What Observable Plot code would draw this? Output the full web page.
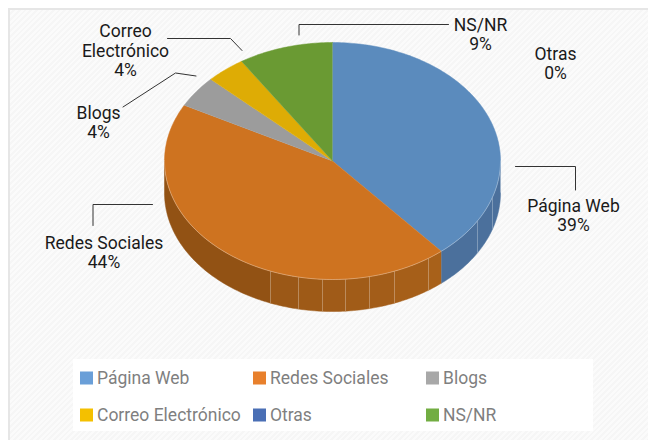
<!DOCTYPE html>
<html>
<head>
<meta charset="utf-8">
<script src="https://cdn.jsdelivr.net/npm/d3@7"></script>
<script src="https://cdn.jsdelivr.net/npm/@observablehq/plot@0.6"></script>
<style>
html,body{margin:0;padding:0;background:#fff;overflow:hidden}
#panel{position:absolute;left:8px;top:8px;width:640px;height:432px;box-sizing:border-box;border-left:2px solid #e6e6e6;border-top:2px solid #e6e6e6;
background:repeating-linear-gradient(135deg,#fbfbfb 0,#fbfbfb 2px,#f6f6f6 2px,#f6f6f6 4px)}
#chart{position:absolute;left:0;top:0}
</style>
</head>
<body>
<div id="panel"></div>
<div id="chart"></div>
<script>
const categories = ["Página Web","Redes Sociales","Blogs","Correo Electrónico","Otras","NS/NR"];
const values = [38.8,44.0,4.3,3.8,0,9.1];
const topColors = ["#5b8bbd","#ce7320","#9c9c9c","#deac05","#4a6aa8","#6a9a33"];
const legendColors = ["#6a9fd8","#e8802c","#a8a8a8","#f4c000","#4a6fb5","#72ad42"];
const labelLines = ["Página Web","Redes Sociales","Blogs","Correo\nElectrónico","Otras","NS/NR"];

// layout of the tilted pie
const cx = 332, cy = 160.5, rx = 168, ry = 118.5, depth = 32;
const pt = (deg, dy = 0) => ({x: cx + rx * Math.sin(deg * Math.PI / 180), y: cy + dy - ry * Math.cos(deg * Math.PI / 180)});
const arc = (a0, a1, dy = 0) => { const n = Math.max(1, Math.ceil(Math.abs(a1 - a0))); return d3.range(n + 1).map(i => pt(a0 + (a1 - a0) * i / n, dy)); };

const total = d3.sum(values);
let acc = 0;
const slices = values.map((v, i) => { const a0 = acc / total * 360; acc += v; return {i, a0, a1: acc / total * 360}; });

// front wall: seams as seen on the reference, left-to-right by pixel column
const seamColumns = [270,298,322,345,369,394,428,477,492];
const seamAngle = c => 180 - Math.asin((c - cx) / rx) * 180 / Math.PI;
const seamAngles = seamColumns.map(seamAngle);
const edges = [90, ...seamAngles, slices[0].a1, 270].sort(d3.ascending);
const orangeWall = d3.interpolateRgb("#a9611a", "#8a4d12");
const wallMarks = d3.pairs(edges).map(([a0, a1]) => {
  const mid = (a0 + a1) / 2;
  const fill = mid < slices[0].a1 ? "#4b709c" : orangeWall((mid - slices[0].a1) / (270 - slices[0].a1));
  const pts = [...arc(a0, a1), ...arc(a1, a0, depth)];
  return Plot.line(pts, {x: "x", y: "y", fill, stroke: fill, strokeWidth: 0.5});
});
const seamMarks = seamAngles.map(a => Plot.line([pt(a), pt(a, depth)], {x: "x", y: "y", stroke: "#fff", strokeOpacity: 0.2, strokeWidth: 1}));

const topMarks = slices.filter(s => s.a1 > s.a0).map(s =>
  Plot.line([{x: cx, y: cy}, ...arc(s.a0, s.a1)], {x: "x", y: "y", fill: topColors[s.i], stroke: topColors[s.i], strokeWidth: 0.5}));
const rimMark = Plot.line(arc(90, 270), {x: "x", y: "y", stroke: "#fff", strokeOpacity: 0.3, strokeWidth: 1});

// labels and leader lines
const labelLayout = [
  {x: 573, y: 215},
  {x: 103.5, y: 251.5},
  {x: 98, y: 121.5},
  {x: 125, y: 50},
  {x: 555, y: 62.5},
  {x: 480, y: 33.5}
];
const labelData = categories.map((c, i) => ({text: `${labelLines[i]}\n${Math.round(values[i])}%`, ...labelLayout[i]}));
const leaders = [
  [{x:515,y:166},{x:575,y:166},{x:575,y:189.5}],
  [{x:92.5,y:225},{x:92.5,y:204},{x:152,y:204}],
  [{x:122.5,y:106.5},{x:175,y:72.5},{x:195.5,y:75.5}],
  [{x:167,y:38},{x:230,y:38},{x:241.5,y:50}],
  [{x:298.5,y:34.5},{x:298.5,y:24},{x:448,y:24}]
];

// legend
const legendBox = [{x1:73,x2:593,y1:359,y2:431}];
const legendCols = [80,253,426], legendRows = [378,415];
const legendItems = categories.map((c, i) => ({c, i, x: legendCols[i % 3], y: legendRows[Math.floor(i / 3)]}));

const font = "Roboto, 'Noto Sans', sans-serif";
const plot = Plot.plot({
  width: 648, height: 440, margin: 0,
  x: {domain: [0, 648], range: [0, 648], axis: null},
  y: {domain: [0, 440], range: [0, 440], axis: null},
  style: {background: "transparent"},
  marks: [
    Plot.rect(legendBox, {x1: "x1", x2: "x2", y1: "y1", y2: "y2", fill: "#fff"}),
    ...wallMarks,
    ...seamMarks,
    ...topMarks,
    rimMark,
    ...leaders.map(l => Plot.line(l, {x: "x", y: "y", stroke: "#333", strokeWidth: 1})),
    Plot.text(labelData, {x: "x", y: "y", text: "text", fill: "#1a1a1a", fontSize: 17.5, fontFamily: font, lineHeight: 1.1, textAnchor: "middle"}),
    Plot.rect(legendItems, {x1: "x", x2: d => d.x + 13, y1: d => d.y - 6.5, y2: d => d.y + 6.5, fill: d => legendColors[d.i]}),
    Plot.text(legendItems, {x: d => d.x + 16.5, y: "y", text: "c", fill: "#7f7f7f", fontSize: 17.5, fontFamily: font, textAnchor: "start"})
  ]
});
document.getElementById("chart").append(plot);
</script>
</body>
</html>
